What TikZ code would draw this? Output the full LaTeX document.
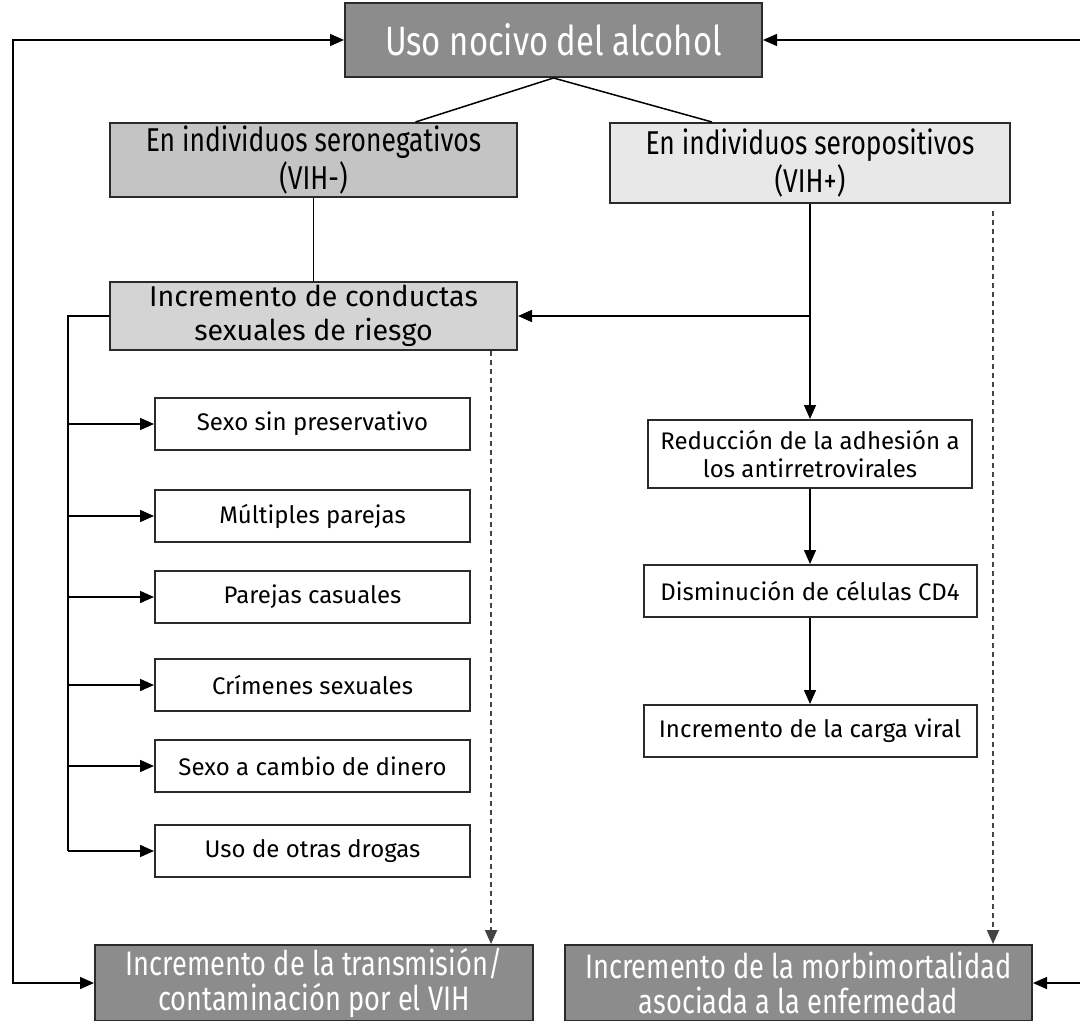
\documentclass[tikz,border=0pt]{standalone}
\usepackage{fontspec}
\setmainfont{Fira Sans}
\newfontfamily\condfont[FakeStretch=0.8]{Fira Sans}
\usetikzlibrary{arrows.meta, calc}

\definecolor{grisoscuro}{HTML}{8C8C8C}
\definecolor{grismedio}{HTML}{C4C4C4}
\definecolor{grisclaro}{HTML}{D4D4D4}
\definecolor{grispalido}{HTML}{E8E8E8}
\definecolor{borde}{HTML}{2A2A2A}
\definecolor{punteado}{HTML}{444444}

\tikzset{
  caja/.style={draw=borde, line width=1pt, align=center, inner sep=0pt},
  cajaoscura/.style={caja, fill=grisoscuro, text=white, font=\condfont\fontsize{17}{17.5}\selectfont},
  cajagris/.style={caja, font=\condfont\fontsize{16.5}{19}\selectfont},
  hoja/.style={caja, fill=white, minimum width=157.5pt, minimum height=26pt, font=\fontsize{12}{14}\selectfont},
  hojader/.style={caja, fill=white, minimum width=166.5pt, minimum height=26pt, font=\fontsize{12}{14}\selectfont},
  flecha/.style={line width=0.75pt, -{Triangle[length=7pt, width=6pt]}},
  linea/.style={line width=0.75pt},
  trazos/.style={line width=0.9pt, draw=punteado, dash pattern=on 2.5pt off 2pt, -{Triangle[length=7pt, width=6pt]}},
  doble/.style={line width=0.75pt, {Triangle[length=7pt, width=6pt]}-{Triangle[length=7pt, width=6pt]}}
}

\begin{document}
\begin{tikzpicture}[x=0.5pt, y=-0.5pt]
\useasboundingbox (0,0) rectangle (1080,1021);
\begin{scope}
\clip (0,0) rectangle (1080,1021);

% cajas superiores
\node[cajaoscura, minimum width=208.5pt, minimum height=37pt, font=\condfont\fontsize{20.5}{22}\selectfont] (alcohol) at (553.5,40) {Uso nocivo del alcohol};
\node[cajagris, fill=grismedio, minimum width=203.5pt, minimum height=37pt] (neg) at (313.5,160) {En individuos seronegativos\\(VIH-)};
\node[cajagris, fill=grispalido, minimum width=200pt, minimum height=40pt] (pos) at (810,163) {En individuos seropositivos\\(VIH+)};

\node[caja, fill=grisclaro, minimum width=203.5pt, minimum height=34pt, font=\fontsize{14.3}{17}\selectfont] (riesgo) at (313.5,316) {Incremento de conductas\\sexuales de riesgo};

% conductas
\node[hoja] (sexo) at (312.5,424) {Sexo sin preservativo};
\node[hoja] (parejas) at (312.5,516) {Múltiples parejas};
\node[hoja] (casuales) at (312.5,597) {Parejas casuales};
\node[hoja] (crimenes) at (312.5,685) {Crímenes sexuales};
\node[hoja] (dinero) at (312.5,766) {Sexo a cambio de dinero};
\node[hoja] (drogas) at (312.5,851) {Uso de otras drogas};

% efectos en seropositivos
\node[hojader, minimum width=162pt, minimum height=34pt] (reduc) at (810,454) {Reducción de la adhesión a\\los antirretrovirales};
\node[hojader] (cd4) at (810,591) {Disminución de células CD4};
\node[hojader] (carga) at (810,731) {Incremento de la carga viral};

% consecuencias
\node[cajaoscura, minimum width=219pt, minimum height=38pt] (transm) at (314,983) {Incremento de la transmisión/\\contaminación por el VIH};
\node[cajaoscura, minimum width=233.5pt, minimum height=38pt] (morb) at (798.5,983) {Incremento de la morbimortalidad\\asociada a la enfermedad};

% conexiones
\draw[linea] (alcohol.south) -- ($(neg.north)+(102,0)$);
\draw[linea] (alcohol.south) -- ($(pos.north)+(-98,0)$);
\draw[linea] (neg.south) -- (riesgo.north);
\draw[flecha] (pos.south) -- (reduc.north);
\coordinate (cruce) at (pos.south |- riesgo.east);
\draw[flecha] (cruce) -- (riesgo.east);
\draw[flecha] (reduc.south) -- (cd4.north);
\draw[flecha] (cd4.south) -- (carga.north);

\coordinate (bus) at (68,316);
\draw[linea] (riesgo.west) -- (bus) -- (bus |- drogas.west);
\foreach \c in {sexo, parejas, casuales, crimenes, dinero, drogas}
  \draw[flecha] (bus |- \c.west) -- (\c.west);

\coordinate (trazoA) at ($(riesgo.south east)+(-27,0)$);
\draw[trazos] (trazoA) -- (trazoA |- transm.north);
\coordinate (trazoB) at (993,211);
\draw[trazos] (trazoB) -- (trazoB |- morb.north);

% ciclos exteriores
\coordinate (izq) at (13,983);
\draw[doble] (transm.west) -- (izq) -- (izq |- alcohol.west) -- (alcohol.west);
\coordinate (der) at (1092,983);
\draw[doble] (morb.east) -- (der) -- (der |- alcohol.east) -- (alcohol.east);
\end{scope}
\end{tikzpicture}
\end{document}
